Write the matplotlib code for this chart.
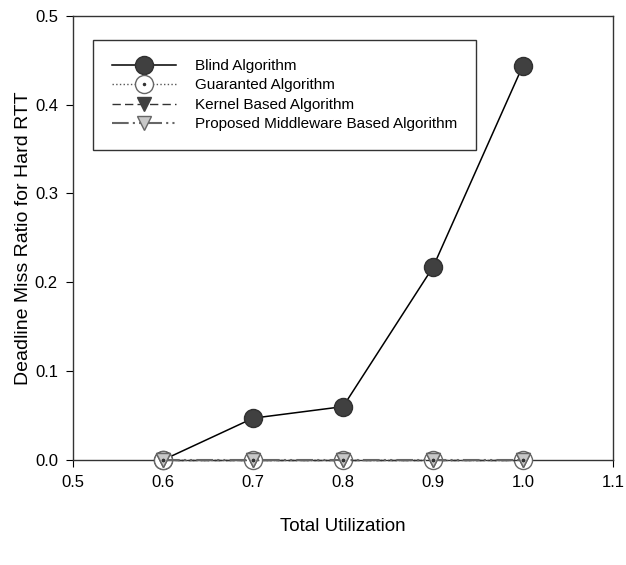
import matplotlib.pyplot as plt
from matplotlib.legend_handler import HandlerTuple

plt.rcParams['font.family'] = ['Liberation Sans', 'DejaVu Sans']

# data
util = [0.6, 0.7, 0.8, 0.9, 1.0]
blind = [0.0, 0.047, 0.060, 0.217, 0.444]
guaranted = [0.0, 0.0, 0.0, 0.0, 0.0]
kernel = [0.0, 0.0, 0.0, 0.0, 0.0]
proposed = [0.0, 0.0, 0.0, 0.0, 0.0]

labels = ["Blind Algorithm", "Guaranted Algorithm",
          "Kernel Based Algorithm", "Proposed Middleware Based Algorithm"]

fig = plt.figure(figsize=(6.26, 5.65), dpi=100)
ax = fig.add_axes([0.117, 0.186, 0.862, 0.786])

h1, = ax.plot(util, blind, color="black", lw=1.1, marker="o", ms=13,
              mfc="#404040", mec="#303030", zorder=3, clip_on=False)
h2a, = ax.plot(util, guaranted, color="#555555", lw=1.0, ls=":", marker="o",
               ms=13, mfc="white", mec="#666666", zorder=4, clip_on=False)
h2b, = ax.plot(util, guaranted, ls="none", marker=".", ms=3,
               color="#333333", zorder=7, clip_on=False)
h3, = ax.plot(util, kernel, color="#333333", lw=1.0, ls=(0, (6, 3)),
              marker="v", ms=10, mfc="#404040", mec="#404040", zorder=5,
              clip_on=False)
h4, = ax.plot(util, proposed, color="#666666", lw=1.5,
              ls=(0, (8, 2, 1, 2, 1, 2)), marker="v", ms=10,
              mfc="#c8c8c8", mec="#666666", zorder=6, clip_on=False)
# dot on top of the triangles too
ax.plot(util, guaranted, ls="none", marker=".", ms=3, color="#333333",
        zorder=8, clip_on=False)

ax.set_xlim(0.5, 1.1)
ax.set_ylim(0.0, 0.5)
ax.set_xticks([0.5, 0.6, 0.7, 0.8, 0.9, 1.0, 1.1])
ax.set_yticks([0.0, 0.1, 0.2, 0.3, 0.4, 0.5])
ax.xaxis.set_major_formatter(plt.FormatStrFormatter("%.1f"))
ax.yaxis.set_major_formatter(plt.FormatStrFormatter("%.1f"))
ax.tick_params(direction="out", length=5, labelsize=12, pad=6,
               top=False, right=False)
ax.set_xlabel("Total Utilization", fontsize=13.5, labelpad=20)
ax.set_ylabel("Deadline Miss Ratio for Hard RTT", fontsize=14, labelpad=2)

for s in ax.spines.values():
    s.set_color("#333333")
    s.set_linewidth(1.0)

leg = ax.legend([h1, (h2a, h2b), h3, h4], labels,
                handler_map={tuple: HandlerTuple(ndivide=1, pad=0)},
                loc="upper left", bbox_to_anchor=(0.037, 0.946),
                fontsize=11, handlelength=4.2, handletextpad=1.2,
                labelspacing=0.36, borderpad=1.25, borderaxespad=0,
                fancybox=False, edgecolor="#333333", framealpha=1)
leg.get_frame().set_linewidth(1.0)

plt.savefig("out.png", dpi=100)
